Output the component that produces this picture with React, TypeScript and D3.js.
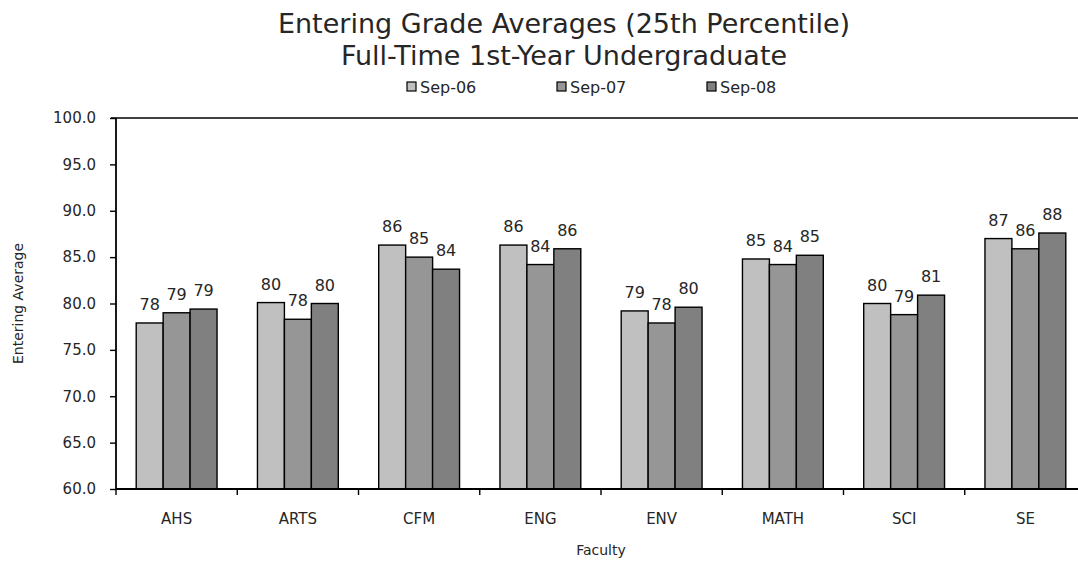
import React, { useRef, useEffect } from 'react';
import * as d3 from 'd3';

const faculties = ['AHS', 'ARTS', 'CFM', 'ENG', 'ENV', 'MATH', 'SCI', 'SE'];
const seriesNames = ['Sep-06', 'Sep-07', 'Sep-08'];
const sep06 = [77.9, 80.1, 86.3, 86.3, 79.2, 84.8, 80.0, 87.0];
const sep07 = [79.0, 78.3, 85.0, 84.2, 77.9, 84.2, 78.8, 85.9];
const sep08 = [79.4, 80.0, 83.7, 85.9, 79.6, 85.2, 80.9, 87.6];
const yTicks = [60, 65, 70, 75, 80, 85, 90, 95, 100];
const colors = ['#c0c0c0', '#969696', '#808080'];

const App = () => {
  const svgRef = useRef<SVGSVGElement>(null);
  const width = 1078;
  const height = 563;

  useEffect(() => {
    const svg = d3.select(svgRef.current);
    svg.selectAll('*').remove();

    const font = 'DejaVu Sans, Verdana, sans-serif';
    const textCol = '#262626';
    const left = 116, right = 1086, top = 118, bottom = 489;

    const x0 = d3.scaleBand().domain(faculties).range([left, right]).paddingInner(0).paddingOuter(0);
    const barW = x0.bandwidth() / 4.5; // gap width 150%
    const y = d3.scaleLinear().domain([60, 100]).range([bottom, top]);

    const allSeries = [sep06, sep07, sep08];

    // titles
    svg.append('text').attr('x', 564).attr('y', 33).attr('text-anchor', 'middle')
      .style('font-family', font).style('font-size', '27px').attr('fill', textCol)
      .text('Entering Grade Averages (25th Percentile)');
    svg.append('text').attr('x', 564).attr('y', 65).attr('text-anchor', 'middle')
      .style('font-family', font).style('font-size', '27px').attr('fill', textCol)
      .text('Full-Time 1st-Year Undergraduate');

    // legend
    const legend = svg.append('g');
    seriesNames.forEach((s, i) => {
      const lx = 407 + i * 150;
      legend.append('rect').attr('x', lx).attr('y', 82).attr('width', 9).attr('height', 9)
        .attr('fill', colors[i]).attr('stroke', '#000').attr('stroke-width', 1.2);
      legend.append('text').attr('x', lx + 13).attr('y', 93)
        .style('font-family', font).style('font-size', '16px').attr('fill', textCol)
        .text(s);
    });

    // top border line
    svg.append('line').attr('x1', left - 5).attr('x2', right).attr('y1', top).attr('y2', top)
      .attr('stroke', '#000').attr('stroke-width', 1.5);

    // bars
    allSeries.forEach((vals, si) => {
      const g = svg.append('g');
      g.selectAll('rect')
        .data(vals)
        .join('rect')
        .attr('x', (d, i) => x0(faculties[i])! + barW * 0.75 + si * barW)
        .attr('y', d => y(d))
        .attr('width', barW)
        .attr('height', d => bottom - y(d))
        .attr('fill', colors[si])
        .attr('stroke', '#000')
        .attr('stroke-width', 1.4);

      g.selectAll('text')
        .data(vals)
        .join('text')
        .attr('x', (d, i) => x0(faculties[i])! + barW * 0.75 + si * barW + barW / 2)
        .attr('y', d => y(d) - 13)
        .attr('text-anchor', 'middle')
        .style('font-family', font).style('font-size', '16px').attr('fill', textCol)
        .text(d => d3.format('.0f')(d));
    });

    // y axis
    const yAxis = d3.axisLeft(y).tickValues(yTicks).tickFormat(d3.format('.1f')).tickSize(6).tickPadding(14);
    const ya = svg.append('g').attr('transform', `translate(${left},0)`).call(yAxis);
    ya.select('.domain').attr('stroke-width', 1.8).attr('d', `M0,${top}V${bottom}`);
    ya.selectAll('.tick line').attr('stroke-width', 1.4);
    ya.selectAll('.tick text').style('font-family', font).style('font-size', '15px').attr('fill', textCol);

    // x axis
    const xa = svg.append('g').attr('transform', `translate(0,${bottom})`);
    xa.append('line').attr('x1', left).attr('x2', right).attr('stroke', '#000').attr('stroke-width', 1.8);
    xa.selectAll('line.tk')
      .data(faculties)
      .join('line')
      .attr('class', 'tk')
      .attr('x1', d => x0(d)!).attr('x2', d => x0(d)!)
      .attr('y1', 0).attr('y2', 6)
      .attr('stroke', '#000').attr('stroke-width', 1.4);
    xa.selectAll('text')
      .data(faculties)
      .join('text')
      .attr('x', d => x0(d)! + x0.bandwidth() / 2)
      .attr('y', 35)
      .attr('text-anchor', 'middle')
      .style('font-family', font).style('font-size', '15px').attr('fill', textCol)
      .text(d => d);

    // axis titles
    svg.append('text').attr('x', 601).attr('y', 555).attr('text-anchor', 'middle')
      .style('font-family', font).style('font-size', '14px').attr('fill', textCol)
      .text('Faculty');
    svg.append('text').attr('transform', `translate(23,${(top + bottom) / 2}) rotate(-90)`)
      .attr('text-anchor', 'middle')
      .style('font-family', font).style('font-size', '14px').attr('fill', textCol)
      .text('Entering Average');
  }, []);

  return (
    <svg ref={svgRef} width={width} height={height}
      style={{ position: 'absolute', left: 0, top: 0, display: 'block' }}></svg>
  );
};

export default App;
